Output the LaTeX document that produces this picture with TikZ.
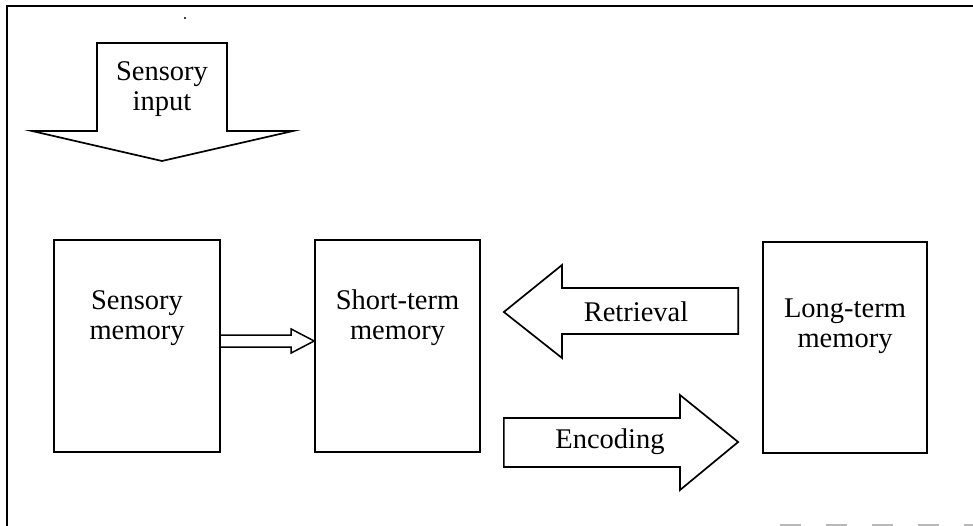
\documentclass[tikz,border=0pt]{standalone}
\usepackage{fontspec}
\setmainfont{Liberation Serif}
\begin{document}
\begin{tikzpicture}[x=1pt,y=-1pt,
  outline/.style={draw=black,line width=1.7pt,line join=miter},
  box/.style={outline,fill=white,inner sep=0pt},
  txt/.style={align=center,inner sep=0pt,font=\fontsize{28.5}{30}\selectfont}]
\useasboundingbox (0,0) rectangle (973,526);

% frame
\draw[line width=1.8pt] (7,526) -- (7,6) -- (973,6);
\fill (185,18) circle (1.2pt);
\draw[gray!55,line width=2pt,dash pattern=on 21pt off 25pt] (780,525) -- (973,525);

% sensory input block arrow
\draw[outline] (97,43) -- (227,43) -- (227,131) -- (293,131) -- (162,161)
  -- (32,131) -- (97,131) -- cycle;
\node[txt] (input) at (162,89) {Sensory\\input};

% memory stores
\node[box,minimum width=166pt,minimum height=212pt] (smem) at (137,346) {};
\node[txt] (smemtxt) at (137,318) {Sensory\\memory};
\node[box,minimum width=165pt,minimum height=212pt] (stm) at (397.5,346) {};
\node[txt] (stmtxt) at (397.5,318) {Short-term\\memory};
\node[box,minimum width=164pt,minimum height=211pt] (ltm) at (845,347.5) {};
\node[txt] (ltmtxt) at (845,326) {Long-term\\memory};

% transfer from sensory to short-term memory
\coordinate (tip) at (stm.west |- 0,341);
\draw[outline,line width=1.5pt] (smem.east |- 0,335) -- ([xshift=-23pt]tip |- 0,335)
  -- ([xshift=-23pt]tip |- 0,329) -- (tip) -- ([xshift=-23pt]tip |- 0,353)
  -- ([xshift=-23pt]tip |- 0,347) -- (smem.east |- 0,347);

% retrieval
\coordinate (rtip) at ([xshift=23pt]stm.east |- 0,312);
\draw[outline] (rtip) -- (562,265) -- (562,288) -- ([xshift=-24pt]ltm.west |- 0,288)
  -- ([xshift=-24pt]ltm.west |- 0,334) -- (562,334) -- (562,358) -- cycle;
\node[txt] (retrieval) at (636,312) {Retrieval};

% encoding
\coordinate (etip) at ([xshift=-24pt]ltm.west |- 0,442);
\draw[outline] ([xshift=23pt]stm.east |- 0,418) -- (680,418) -- (680,395) -- (etip)
  -- (680,490) -- (680,467) -- ([xshift=23pt]stm.east |- 0,467) -- cycle;
\node[txt] (encoding) at (610,442) {Encoding};
\end{tikzpicture}
\end{document}
